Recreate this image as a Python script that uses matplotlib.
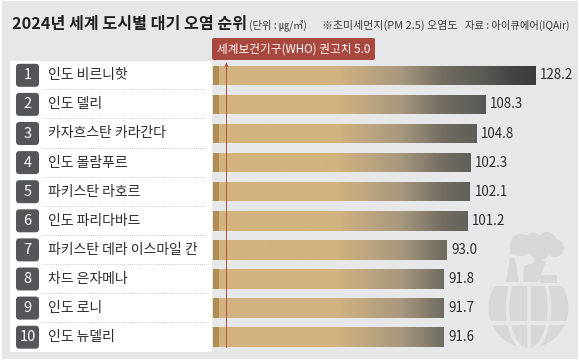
import numpy as np
import matplotlib
matplotlib.use('Agg')
import matplotlib.pyplot as plt
from matplotlib.colors import LinearSegmentedColormap
from matplotlib.patches import Rectangle, FancyBboxPatch, Circle, Polygon, Ellipse

plt.rcParams['font.family'] = ['Noto Sans CJK KR', 'DejaVu Sans']

ranks = ['1', '2', '3', '4', '5', '6', '7', '8', '9', '10']
cities = ['인도 비르니핫', '인도 델리', '카자흐스탄 카라간다', '인도 몰람푸르', '파키스탄 라호르',
          '인도 파리다바드', '파키스탄 데라 이스마일 칸', '차드 은자메나', '인도 로니', '인도 뉴델리']
values = [128.2, 108.3, 104.8, 102.3, 102.1, 101.2, 93.0, 91.8, 91.7, 91.6]
who_value = 5.0

bg = '#e6e7e8'
txt = '#2c2c2e'
icon = '#d6d7d8'

fig = plt.figure(figsize=(5.8, 3.61), dpi=100, facecolor='white')

# background axes, in picture pixels
deco = fig.add_axes([0, 0, 1, 1])
deco.set_xlim(0, 580)
deco.set_ylim(361, 0)
deco.axis('off')
deco.add_patch(Rectangle((1.5, 1), 576.5, 358, fc=bg, ec='none'))
deco.add_patch(Rectangle((9.5, 61), 202.5, 291, fc='white', ec='none'))

# factory and globe icon
globe = Circle((528.5, 308), 40, fc=icon, ec='none')
deco.add_patch(globe)
deco.add_patch(Rectangle((485, 262), 90, 24, fc=bg, ec='none', zorder=2))
deco.add_patch(Rectangle((485, 321), 90, 3.5, fc=bg, ec='none', zorder=2))
deco.plot([528.5, 528.5], [284, 350], color=bg, lw=2.6, zorder=2)
deco.add_patch(Ellipse((528.5, 308), 42, 84, fc='none', ec=bg, lw=2.6, zorder=2))
for cx, cy, r in [(521, 245, 11), (533, 243, 10), (547, 241, 9), (555, 248, 9), (540, 250, 10)]:
    deco.add_patch(Circle((cx, cy), r, fc=icon, ec='none', zorder=3))
deco.add_patch(Rectangle((510, 246), 50, 8, fc=icon, ec='none', zorder=3))
deco.add_patch(Polygon([(506, 282), (510, 258), (515, 258), (519, 282)], fc=icon, ec='none', zorder=3))
deco.add_patch(Polygon([(523, 282), (524, 266), (533, 263), (535, 258), (546, 262), (538, 282)], fc=icon, ec='none', zorder=3))
deco.add_patch(Rectangle((540, 275), 17, 7.5, fc=icon, ec='none', zorder=3))

# dotted row separators and rank badges
row_y = 75.3 + 29.1 * np.arange(len(ranks))
for i, y in enumerate(row_y):
    deco.add_patch(FancyBboxPatch((18, y - 9.5), 19, 19, boxstyle='round,pad=2,rounding_size=3.5',
                                  fc='#55565a', ec='none', zorder=3))
    deco.text(27.5, y, ranks[i], color='white', fontsize=10.5, ha='center', va='center', zorder=4)
    deco.text(48, y, cities[i], color=txt, fontsize=10, ha='left', va='center', zorder=4)
    if i < len(ranks) - 1:
        deco.plot([42, 206], [y + 14, y + 14], color='#cfcfcf', lw=0.7, ls=(0, (1, 1)))

# bars
ax = fig.add_axes([213 / 580, 0, 367 / 580, 1])
ax.patch.set_alpha(0)
ax.set_xlim(0, 367 / 2.514)
ax.set_ylim((361 - 75.3) / 29.1, -75.3 / 29.1)
ax.axis('off')

bars = ax.barh(range(len(values)), values, height=19.5 / 29.1, color='#d2b27f', edgecolor='none')
grad = LinearSegmentedColormap.from_list('grad', [
    (0, '#d2b27f'), (0.38, '#d2b27f'), (0.58, '#a8987e'), (0.71, '#736e62'),
    (0.84, '#5a5955'), (0.93, '#444445'), (1, '#3c3c3e')])
for b in bars:
    im = ax.imshow(np.linspace(0, 1, 400).reshape(1, -1), cmap=grad, vmin=0, vmax=1,
                   extent=(0, 128.2, ax.get_ylim()[0], ax.get_ylim()[1]), aspect='auto', zorder=2)
    im.set_clip_path(b)
ax.set_xlim(0, 367 / 2.514)
ax.set_ylim((361 - 75.3) / 29.1, -75.3 / 29.1)

ax.barh(range(len(values)), [2.2] * len(values), height=19.5 / 29.1, color='#b08d55', edgecolor='none', zorder=3)
ax.plot([who_value, who_value], [-0.33, 9.33], color='#b5533f', lw=0.7, zorder=4)
ax.plot([who_value], [-0.38], marker='^', ms=3, color='#b5533f', mec='none', zorder=4)

for i, v in enumerate(values):
    ax.annotate(f'{v:.1f}', (v, i), xytext=(3.5, 0), textcoords='offset points', color=txt,
                fontsize=9.6, va='center', ha='left')

# header
deco.text(12, 24, '2024년 세계 도시별 대기 오염 순위', color='#1f1f21', fontsize=11.6, fontweight='bold', ha='left', va='center')
deco.text(249, 25, '(단위 : ㎍/㎥)', color='#3a3a3c', fontsize=7.4, ha='left', va='center')
deco.text(322, 25, '※초미세먼지(PM 2.5) 오염도', color='#3a3a3c', fontsize=7.9, ha='left', va='center')
deco.text(465, 25, '자료 : 아이큐에어(IQAir)', color='#3a3a3c', fontsize=7.4, ha='left', va='center')

deco.add_patch(FancyBboxPatch((214, 40), 159, 18, boxstyle='round,pad=2,rounding_size=2',
                              fc='#a9483e', ec='none'))
deco.text(293.5, 49, '세계보건기구(WHO) 권고치 5.0', color='white', fontsize=8.4, ha='center', va='center')

fig.savefig('out.png', dpi=100)
